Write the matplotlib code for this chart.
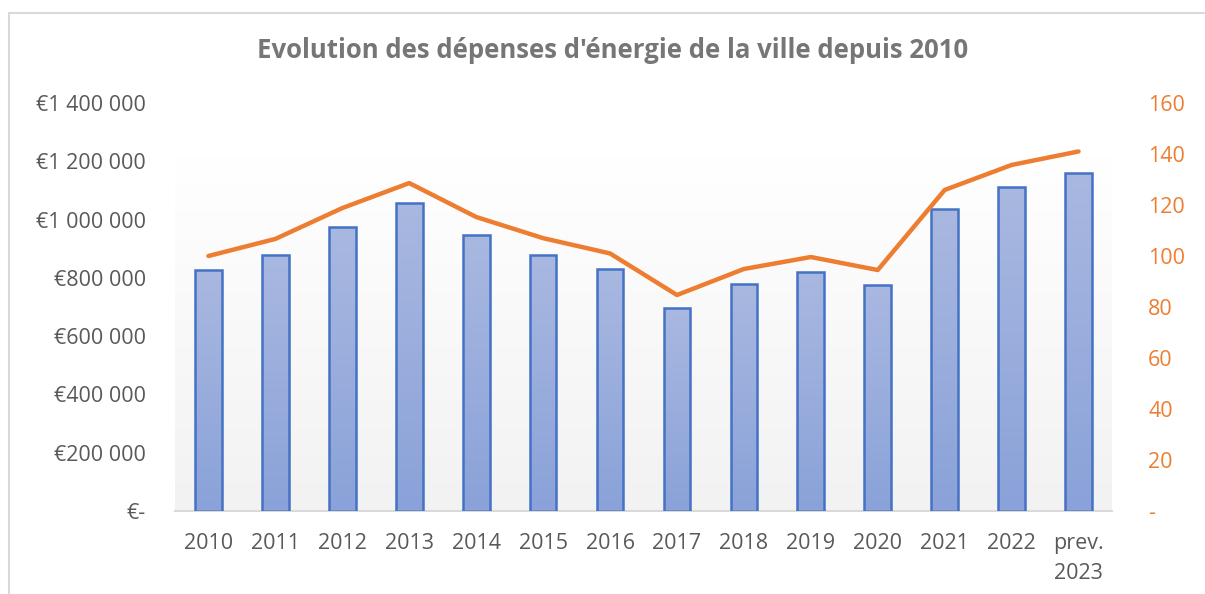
import numpy as np
import matplotlib.pyplot as plt
from matplotlib.colors import LinearSegmentedColormap
from matplotlib.patches import Rectangle

plt.rcParams['font.family'] = ['Open Sans', 'DejaVu Sans']

annees = ['2010', '2011', '2012', '2013', '2014', '2015', '2016', '2017',
          '2018', '2019', '2020', '2021', '2022', 'prev.\n2023']
depenses = [827000, 878000, 974000, 1057000, 947000, 878000, 830000, 697000,
            779000, 820000, 775000, 1036000, 1112000, 1160000]
indice = [100, 106.7, 118.8, 128.6, 115.3, 107, 101, 84.7,
          94.9, 99.6, 94.5, 125.9, 135.7, 141]

gris = '#595959'
orange = '#ed7d31'
bleu = '#4472c4'

fig = plt.figure(figsize=(12.05, 5.94), dpi=100)
fig.patches.append(Rectangle((9 / 1205, -0.05), 1.1, 1 - 13 / 594 + 0.05,
                             transform=fig.transFigure, fill=False,
                             edgecolor='#d9d9d9', linewidth=1.5))
ax = fig.add_axes([175 / 1205, 83 / 594, 937 / 1205, 408 / 594])

# fond dégradé
bg = LinearSegmentedColormap.from_list('bg', ['#f2f2f2', '#ffffff'])
grad = np.linspace(0, 1, 256).reshape(-1, 1)
ax.imshow(grad, cmap=bg, aspect='auto', origin='lower',
          extent=[0, 1, 0, 0.87], transform=ax.transAxes, zorder=0)

x = np.arange(len(annees))
bars = ax.bar(x, depenses, width=0.4, facecolor='none', edgecolor=bleu,
              linewidth=1.8, zorder=3)
barcmap = LinearSegmentedColormap.from_list('bar', ['#8aa2d9', '#a9b8e0'])
for b in bars:
    im = ax.imshow(grad, cmap=barcmap, aspect='auto', origin='lower',
                   extent=[b.get_x(), b.get_x() + b.get_width(), 0, b.get_height()],
                   zorder=2)
    im.set_clip_path(b)

ax.set_xlim(-0.5, len(annees) - 0.5)
ax.set_ylim(0, 1400000)
ax.set_yticks(np.arange(0, 1400001, 200000))


def euro(v, pos=None):
    if v == 0:
        return '€-'
    return '€' + f'{int(v):,}'.replace(',', ' ')


ax.set_yticklabels([euro(v) for v in ax.get_yticks()])
ax.set_xticks(x)
ax.set_xticklabels(annees, linespacing=1.55)
ax.tick_params(axis='y', length=0, pad=21, labelsize=15.5, labelcolor=gris)
ax.tick_params(axis='x', length=0, pad=16, labelsize=15.5, labelcolor=gris)
for s in ['top', 'right', 'left']:
    ax.spines[s].set_visible(False)
ax.spines['bottom'].set_color('#d9d9d9')
ax.spines['bottom'].set_linewidth(1.5)

ax2 = ax.twinx()
ax2.plot(x, indice, color=orange, linewidth=3.2, solid_capstyle='round', zorder=4)
ax2.set_ylim(0, 160)
ax2.set_yticks(np.arange(0, 161, 20))
ax2.set_yticklabels(['-'] + [str(v) for v in range(20, 161, 20)])
ax2.tick_params(axis='y', length=0, pad=26, labelsize=15.5, labelcolor=orange)
for s in ax2.spines.values():
    s.set_visible(False)

fig.text(613 / 1205, 1 - 50 / 594, "Evolution des dépenses d'énergie de la ville depuis 2010",
         ha='center', va='center', fontsize=18.5, fontweight='bold', color='#767676')

fig.savefig('out.png', dpi=100)
